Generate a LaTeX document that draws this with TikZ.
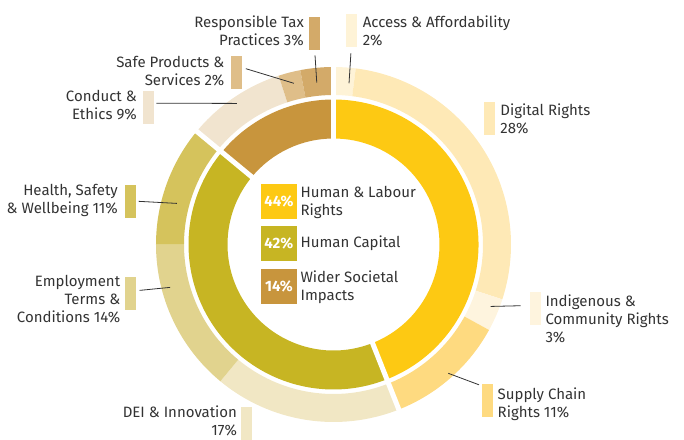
\documentclass[tikz,border=0pt]{standalone}
\usepackage{fontspec}
\setmainfont{Fira Sans}
\definecolor{ink}{HTML}{333333}
\definecolor{labour}{HTML}{FDC913}
\definecolor{capital}{HTML}{C7B523}
\definecolor{societal}{HTML}{C8953D}
\definecolor{access}{HTML}{FEF3D7}
\definecolor{digital}{HTML}{FEE9B6}
\definecolor{indigenous}{HTML}{FEF4DE}
\definecolor{supply}{HTML}{FEDA80}
\definecolor{dei}{HTML}{F1E7C4}
\definecolor{employment}{HTML}{E1D38E}
\definecolor{health}{HTML}{D5C35C}
\definecolor{conduct}{HTML}{F1E4CF}
\definecolor{safe}{HTML}{DFBE89}
\definecolor{tax}{HTML}{D3AA69}
\begin{document}
\begin{tikzpicture}[x=1pt,y=1pt,
    every node/.style ={font=\fontsize{15}{18}\selectfont},
    bar/.style ={rectangle, inner sep=0pt, minimum width=11pt, minimum height=33pt},
    key/.style ={rectangle, inner sep=0pt, minimum width=36pt, minimum height=35pt, text=white, font=\fontsize{15}{18}\selectfont\bfseries},
    lbl/.style ={inner sep=0pt, text=ink, align=left},
    rlbl/.style ={inner sep=0pt, text=ink, align=right},
    leader/.style ={draw=ink, line width=0.8pt},
    gap/.style ={white, line width=5pt}]
   \useasboundingbox (-333.5,-194.5) rectangle (350.5,244.5);
   % inner ring
   \fill[labour] (90:106) arc[start angle=90, end angle=-68.4, radius=106] -- (-68.4:145) arc[start angle=-68.4, end angle=90, radius=145] -- cycle;
   \fill[capital] (-68.4:106) arc[start angle=-68.4, end angle=-219.6, radius=106] -- (-219.6:145) arc[start angle=-219.6, end angle=-68.4, radius=145] -- cycle;
   \fill[societal] (-219.6:106) arc[start angle=-219.6, end angle=-270, radius=106] -- (-270:145) arc[start angle=-270, end angle=-219.6, radius=145] -- cycle;
   % outer ring
   \fill[access] (90:149.5) arc[start angle=90, end angle=82.8, radius=149.5] -- (82.8:177.5) arc[start angle=82.8, end angle=90, radius=177.5] -- cycle;
   \fill[digital] (82.8:149.5) arc[start angle=82.8, end angle=-18, radius=149.5] -- (-18:177.5) arc[start angle=-18, end angle=82.8, radius=177.5] -- cycle;
   \fill[indigenous] (-18:149.5) arc[start angle=-18, end angle=-28.8, radius=149.5] -- (-28.8:177.5) arc[start angle=-28.8, end angle=-18, radius=177.5] -- cycle;
   \fill[supply] (-28.8:149.5) arc[start angle=-28.8, end angle=-68.4, radius=149.5] -- (-68.4:177.5) arc[start angle=-68.4, end angle=-28.8, radius=177.5] -- cycle;
   \fill[dei] (-68.4:149.5) arc[start angle=-68.4, end angle=-129.6, radius=149.5] -- (-129.6:177.5) arc[start angle=-129.6, end angle=-68.4, radius=177.5] -- cycle;
   \fill[employment] (-129.6:149.5) arc[start angle=-129.6, end angle=-180, radius=149.5] -- (-180:177.5) arc[start angle=-180, end angle=-129.6, radius=177.5] -- cycle;
   \fill[health] (-180:149.5) arc[start angle=-180, end angle=-219.6, radius=149.5] -- (-219.6:177.5) arc[start angle=-219.6, end angle=-180, radius=177.5] -- cycle;
   \fill[conduct] (-219.6:149.5) arc[start angle=-219.6, end angle=-252, radius=149.5] -- (-252:177.5) arc[start angle=-252, end angle=-219.6, radius=177.5] -- cycle;
   \fill[safe] (-252:149.5) arc[start angle=-252, end angle=-259.2, radius=149.5] -- (-259.2:177.5) arc[start angle=-259.2, end angle=-252, radius=177.5] -- cycle;
   \fill[tax] (-259.2:149.5) arc[start angle=-259.2, end angle=-270, radius=149.5] -- (-270:177.5) arc[start angle=-270, end angle=-259.2, radius=177.5] -- cycle;
   \draw[gap] (90:100) -- (90:182);
   \draw[gap] (-68.4:100) -- (-68.4:182);
   \draw[gap] (140.4:100) -- (140.4:182);
   % legend
   \node[key, fill=labour] (k1) at (-54.6,42.7) {44\%};
   \node[key, fill=capital] (k2) at (-54.6,1.2) {42\%};
   \node[key, fill=societal] (k3) at (-54.6,-41.7) {14\%};
   \node[lbl, anchor=west] (k1-t) at ([xshift=3.3pt,yshift=-1pt]k1.east) {Human \& Labour\\Rights};
   \node[lbl, anchor=west] (k2-t) at ([xshift=3.3pt]k2.east) {Human Capital};
   \node[lbl, anchor=west] (k3-t) at ([xshift=3.3pt,yshift=-1pt]k3.east) {Wider Societal\\Impacts};
   % labels
   \node[bar, fill=tax] (tax) at (-18.8,210.8) {};
   \node[bar, fill=access] (acc) at (17.8,214.2) {};
   \node[bar, fill=safe] (safe) at (-97.2,172.2) {};
   \node[bar, fill=conduct] (cond) at (-184.8,137.3) {};
   \node[bar, fill=health] (hlth) at (-202.8,43.3) {};
   \node[bar, fill=employment] (emp) at (-202.8,-48.5) {};
   \node[bar, fill=dei] (dei) at (-87,-178.7) {};
   \node[bar, fill=digital] (dig) at (156,125.7) {};
   \node[bar, fill=indigenous] (ind) at (201.8,-64.3) {};
   \node[bar, fill=supply] (sup) at (154.3,-156.3) {};
   \node[rlbl, anchor=north east] (tax-t) at ([xshift=-5pt,yshift=1.5pt]tax.north west) {Responsible Tax\\Practices 3\%};
   \node[lbl, anchor=north west] (acc-t) at ([xshift=5.6pt,yshift=-2.3pt]acc.north east) {Access \& Affordability\\2\%};
   \node[rlbl, anchor=north east] (safe-t) at ([xshift=-6pt]safe.north west) {Safe Products \&\\Services 2\%};
   \node[rlbl, anchor=north east] (cond-t) at ([xshift=-6pt]cond.north west) {Conduct \&\\Ethics 9\%};
   \node[rlbl, anchor=north east] (hlth-t) at ([xshift=-7pt]hlth.north west) {Health, Safety\\\& Wellbeing 11\%};
   \node[rlbl, anchor=north east] (emp-t) at ([xshift=-4.6pt,yshift=1pt]emp.north west) {Employment\\Terms \&\\Conditions 14\%};
   \node[rlbl, anchor=north east] (dei-t) at ([xshift=-3.6pt,yshift=0.5pt]dei.north west) {DEI \& Innovation\\17\%};
   \node[lbl, anchor=north west] (dig-t) at ([xshift=5pt,yshift=-1.3pt]dig.north east) {Digital Rights\\28\%};
   \node[lbl, anchor=north west] (ind-t) at ([xshift=4.3pt,yshift=-2.3pt]ind.north east) {Indigenous \&\\Community Rights\\3\%};
   \node[lbl, anchor=north west] (sup-t) at ([xshift=4pt,yshift=-3pt]sup.north east) {Supply Chain\\Rights 11\%};
   % leaders
   \coordinate (p-tax) at (95.9:162.7);
   \coordinate (p-acc) at (84.5:162);
   \coordinate (p-safe) at (103.8:166);
   \coordinate (p-cond) at (124.4:171);
   \coordinate (p-hlth) at (165.3:162);
   \coordinate (p-emp) at (194.7:169);
   \coordinate (p-ind) at (-21.5:169);
   \coordinate (p-sup) at (-48.3:172.5);
   \draw[leader, shorten >=5pt] (p-tax) -- (tax.south);
   \draw[leader, shorten >=6.5pt] (p-acc) -- (acc.south);
   \draw[leader, shorten >=4pt] (p-safe) -- (safe.40);
   \draw[leader, shorten >=2pt] (p-cond) -- (cond.35);
   \draw[leader, shorten >=2.3pt] (p-hlth) -- (hlth.east);
   \draw[leader, shorten >=3.3pt] (p-emp) -- (emp.22);
   \draw[leader, shorten >=9pt] (p-ind) -- (ind.150);
   \draw[leader, shorten >=3.3pt] (p-sup) -- (sup.111);
 \end{tikzpicture}
\end{document}
